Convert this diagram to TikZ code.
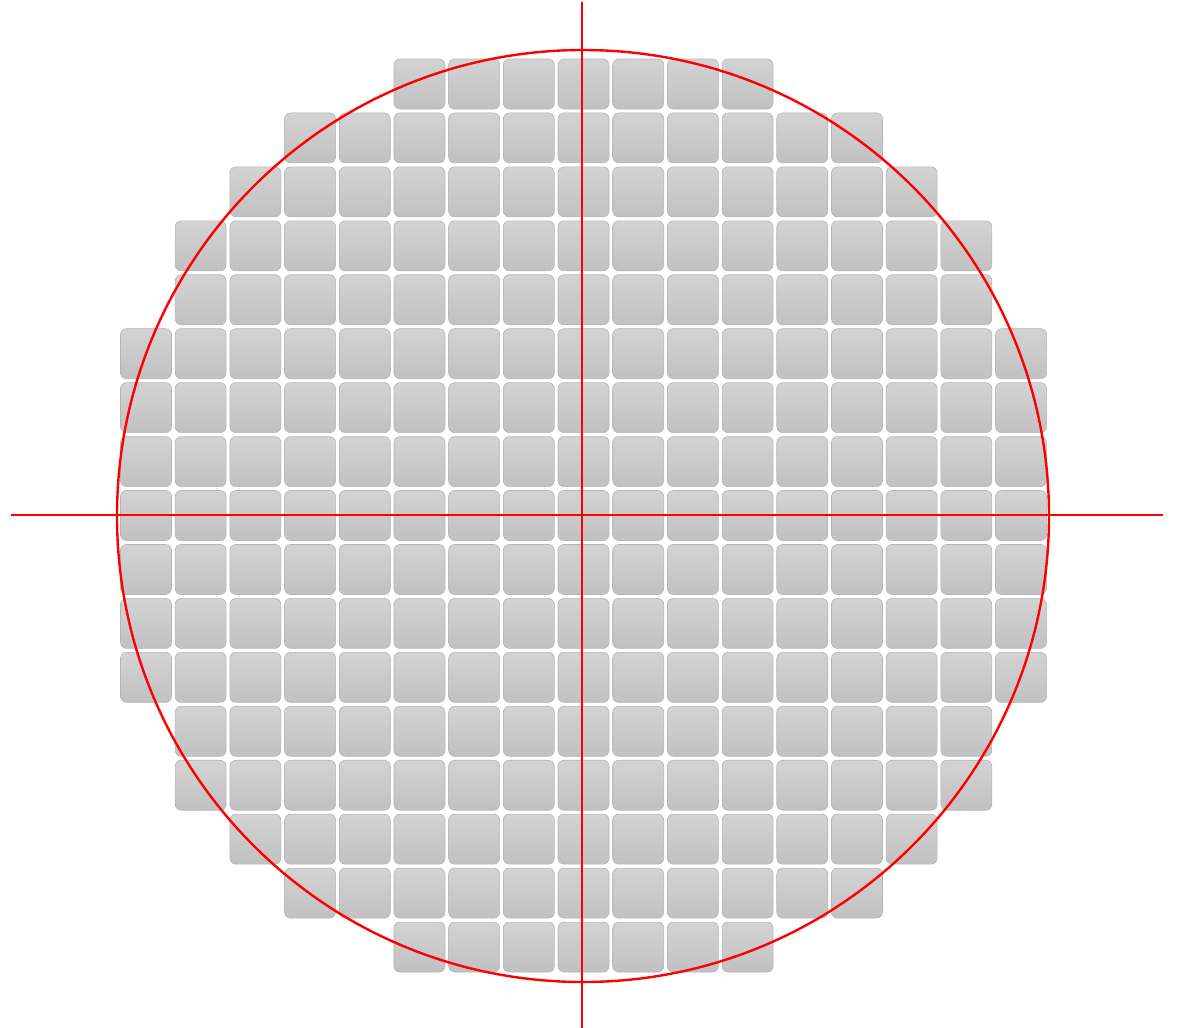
\documentclass[tikz,border=0pt]{standalone}
\definecolor{tiletop}{HTML}{D3D3D3}
\definecolor{tilebot}{HTML}{C1C1C1}
\definecolor{tileline}{HTML}{B4B4B4}
\definecolor{wred}{HTML}{FF0000}
\tikzset{
  tile/.style={draw=tileline, line width=0.6pt, rounded corners=6pt,
    top color=tiletop, bottom color=tilebot, minimum width=51pt,
    minimum height=50pt, inner sep=0pt, outer sep=0pt},
  wafer/.style={circle, draw=wred, line width=2.4pt, minimum size=932pt, inner sep=0pt},
  axis/.style={draw=wred, line width=1.4pt}
}
\begin{document}
\begin{tikzpicture}[x=1pt,y=-1pt]
\useasboundingbox (0,0) rectangle (1178,1028);
\foreach \r/\a/\b in {0/5/11,1/3/13,2/2/14,3/1/15,4/1/15,5/0/16,6/0/16,7/0/16,8/0/16,9/0/16,10/0/16,11/0/16,12/1/15,13/1/15,14/2/14,15/3/13,16/5/11}{
  \foreach \c in {\a,...,\b}{
    \node[tile] (t-\r-\c) at ({146+54.69*\c},{84+53.94*\r}) {};
  }
}
\node[wafer] (w) at (583,516) {};
\coordinate (vt) at (582,2);
\coordinate (vb) at (582,1028);
\coordinate (hl) at (11,515);
\coordinate (hr) at (1163,515);
\draw[axis] (vt) -- (vb);
\draw[axis] (hl) -- (hr);
\end{tikzpicture}
\end{document}
